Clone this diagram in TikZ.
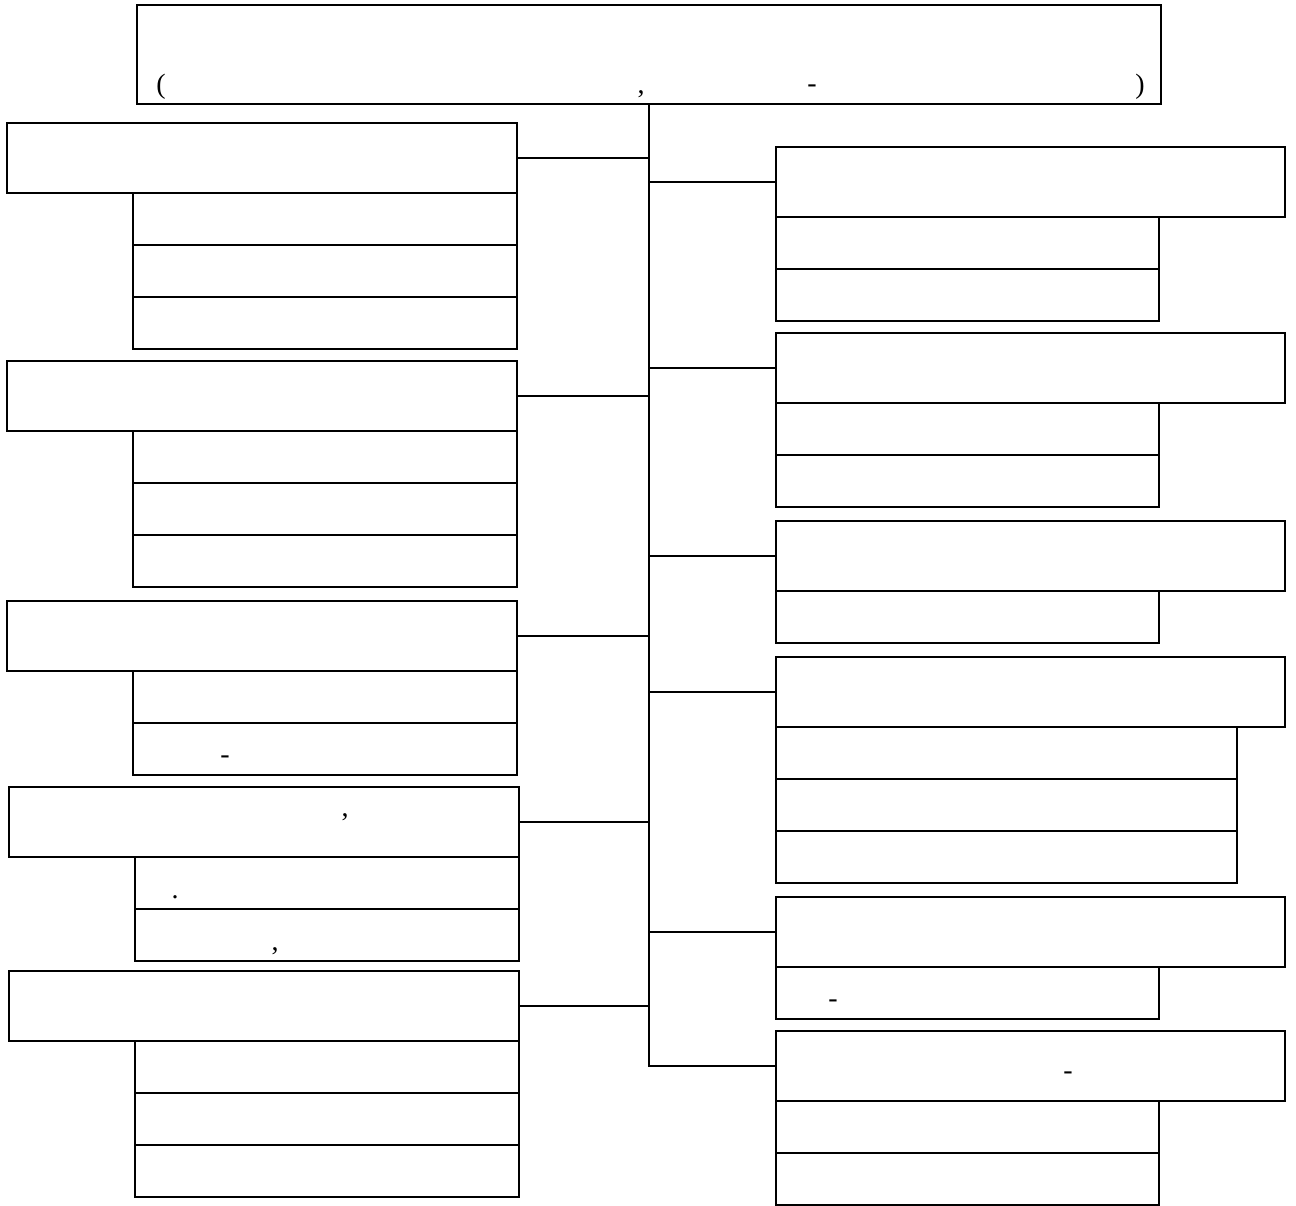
\documentclass[tikz,border=0pt]{standalone}
\usepackage{fontspec}
\setmainfont{Liberation Serif}
\begin{document}
\begin{tikzpicture}[x=1pt,y=-1pt,
  bx/.style={draw,line width=1.8pt,inner sep=0pt,outer sep=0pt,anchor=north west,fill=white},
  pn/.style={inner sep=0pt,anchor=base,font=\fontsize{28}{32}\selectfont},
  ln/.style={line width=1.8pt}]
\useasboundingbox[fill=white] (0,0) rectangle (1296,1206);
% top box
\node[bx,minimum width=1024,minimum height=99] (top) at (137,5) {};
\node[pn] (p1) at (161,94) {(};
\node[pn] (p2) at (641,94) {,};
\node[pn] (p3) at (812,93) {-};
\node[pn] (p4) at (1140,94) {)};
% left column
\node[bx,minimum width=510,minimum height=70] (L1) at (7,123) {};
\node[bx,minimum width=384,minimum height=52] (L1a) at (133,193) {};
\node[bx,minimum width=384,minimum height=52] (L1b) at (133,245) {};
\node[bx,minimum width=384,minimum height=52] (L1c) at (133,297) {};
\node[bx,minimum width=510,minimum height=70] (L2) at (7,361) {};
\node[bx,minimum width=384,minimum height=52] (L2a) at (133,431) {};
\node[bx,minimum width=384,minimum height=52] (L2b) at (133,483) {};
\node[bx,minimum width=384,minimum height=52] (L2c) at (133,535) {};
\node[bx,minimum width=510,minimum height=70] (L3) at (7,601) {};
\node[bx,minimum width=384,minimum height=52] (L3a) at (133,671) {};
\node[bx,minimum width=384,minimum height=52] (L3b) at (133,723) {};
\node[pn] (p5) at (225,763) {-};
\node[bx,minimum width=510,minimum height=70] (L4) at (9,787) {};
\node[pn] (p6) at (345,816) {,};
\node[bx,minimum width=384,minimum height=52] (L4a) at (135,857) {};
\node[pn] (p7) at (175,898) {.};
\node[bx,minimum width=384,minimum height=52] (L4b) at (135,909) {};
\node[pn] (p8) at (275,950) {,};
\node[bx,minimum width=510,minimum height=70] (L5) at (9,971) {};
\node[bx,minimum width=384,minimum height=52] (L5a) at (135,1041) {};
\node[bx,minimum width=384,minimum height=52] (L5b) at (135,1093) {};
\node[bx,minimum width=384,minimum height=52] (L5c) at (135,1145) {};
% right column
\node[bx,minimum width=509,minimum height=70] (R1) at (776,147) {};
\node[bx,minimum width=383,minimum height=52] (R1a) at (776,217) {};
\node[bx,minimum width=383,minimum height=52] (R1b) at (776,269) {};
\node[bx,minimum width=509,minimum height=70] (R2) at (776,333) {};
\node[bx,minimum width=383,minimum height=52] (R2a) at (776,403) {};
\node[bx,minimum width=383,minimum height=52] (R2b) at (776,455) {};
\node[bx,minimum width=509,minimum height=70] (R3) at (776,521) {};
\node[bx,minimum width=383,minimum height=52] (R3a) at (776,591) {};
\node[bx,minimum width=509,minimum height=70] (R4) at (776,657) {};
\node[bx,minimum width=461,minimum height=52] (R4a) at (776,727) {};
\node[bx,minimum width=461,minimum height=52] (R4b) at (776,779) {};
\node[bx,minimum width=461,minimum height=52] (R4c) at (776,831) {};
\node[bx,minimum width=509,minimum height=70] (R5) at (776,897) {};
\node[bx,minimum width=383,minimum height=52] (R5a) at (776,967) {};
\node[pn] (p9) at (833,1007) {-};
\node[bx,minimum width=509,minimum height=70] (R6) at (776,1031) {};
\node[pn] (p10) at (1068,1079) {-};
\node[bx,minimum width=383,minimum height=52] (R6a) at (776,1101) {};
\node[bx,minimum width=383,minimum height=52] (R6b) at (776,1153) {};
% connectors
\coordinate (tr) at (top.south);
\draw[ln] (top.south) -- (top.south |- R6.west) -- (R6.west);
\foreach \n in {L1,L2,L3,L4,L5} {\draw[ln] (\n.east) -- (\n.east -| tr);}
\foreach \n in {R1,R2,R3,R4,R5} {\draw[ln] (\n.west) -- (\n.west -| tr);}
\end{tikzpicture}
\end{document}
